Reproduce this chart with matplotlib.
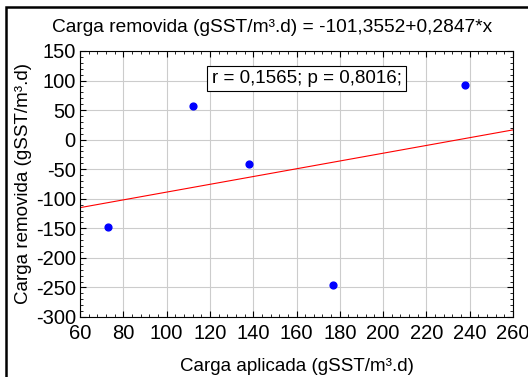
import numpy as np
import matplotlib
matplotlib.use('Agg')
import matplotlib.pyplot as plt
from matplotlib.patches import Rectangle
from matplotlib.ticker import MultipleLocator

plt.rcParams['font.family'] = ['Liberation Sans', 'DejaVu Sans']
plt.rcParams['axes.unicode_minus'] = False

# applied vs removed load
carga_aplicada = [73, 112, 138, 177, 238]
carga_removida = [-148, 57, -42, -246, 92]
x_ticks = [60, 80, 100, 120, 140, 160, 180, 200, 220, 240, 260]
y_ticks = [-300, -250, -200, -150, -100, -50, 0, 50, 100, 150]

titulo = 'Carga removida (gSST/m³.d) = -101,3552+0,2847*x'
estat = 'r = 0,1565; p = 0,8016;'

fig = plt.figure(figsize=(5.28, 3.77), dpi=100)
ax = fig.add_axes([80 / 528, 1 - 317 / 377, 433 / 528, 266 / 377])

# linear fit over the axis range
coef = np.polyfit(carga_aplicada, carga_removida, 1)
xx = np.array([x_ticks[0], x_ticks[-1]])
ax.plot(xx, np.polyval(coef, xx), color='red', lw=0.8, zorder=2)
ax.scatter(carga_aplicada, carga_removida, s=24, color='blue', zorder=3)

ax.set_xlim(x_ticks[0], x_ticks[-1])
ax.set_ylim(y_ticks[0], y_ticks[-1])
ax.set_xticks(x_ticks)
ax.set_yticks(y_ticks)
ax.xaxis.set_minor_locator(MultipleLocator(4))
ax.yaxis.set_minor_locator(MultipleLocator(10))
ax.tick_params(which='both', direction='in', top=True, right=True,
               labelsize=14.5)
ax.tick_params(axis='x', pad=5)
ax.tick_params(axis='y', pad=3)
ax.tick_params(which='major', length=4, width=0.8)
ax.tick_params(which='minor', length=2, width=0.6)
ax.grid(True, which='major', color='#cccccc', lw=0.8)
ax.set_axisbelow(True)
for s in ax.spines.values():
    s.set_linewidth(0.8)

ax.set_xlabel('Carga aplicada (gSST/m³.d)', fontsize=13.5, labelpad=11)
ax.set_ylabel('Carga removida (gSST/m³.d)', fontsize=13.5, labelpad=3)

ax.text(0.523, 0.898, estat, transform=ax.transAxes, ha='center', va='center',
        fontsize=13.5,
        bbox=dict(boxstyle='square,pad=0.22', fc='white', ec='black', lw=0.8))

fig.text(0.515, 1 - 27 / 377, titulo, ha='center', va='center', fontsize=13.8)

# outer frame
fig.patches.append(Rectangle((6 / 528, -0.05), 1.2, 1 - 7 / 377 + 0.05,
                             transform=fig.transFigure, fill=False,
                             ec='black', lw=1.8))

fig.savefig('out.png', dpi=100)
